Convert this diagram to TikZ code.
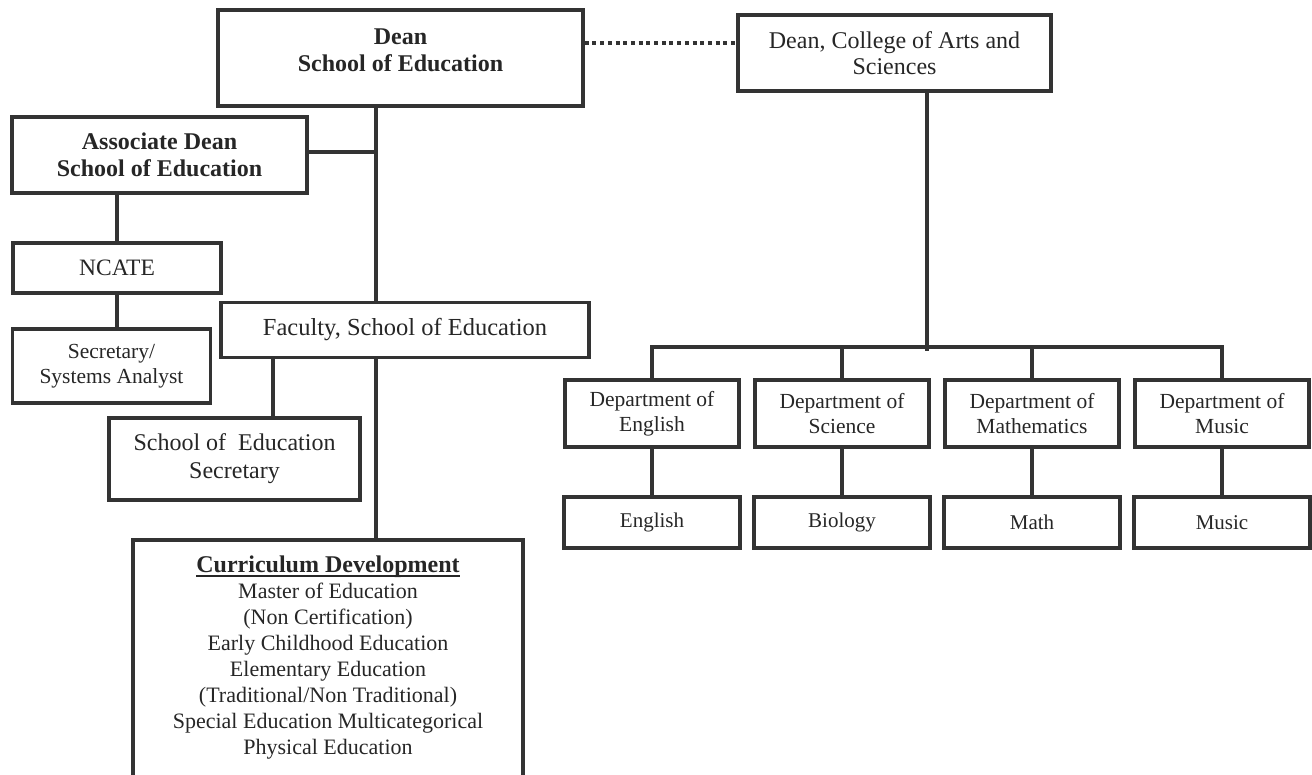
\documentclass[tikz,border=0pt]{standalone}
\usepackage{fontspec}
\setmainfont{Liberation Serif}
\definecolor{ink}{HTML}{333333}
\newcommand{\headrule}[1]{\setbox0\hbox{#1}\rlap{\rule[-4pt]{\wd0}{1.8pt}}\box0}
\tikzstyle{unit} = [rectangle, draw=ink, line width=3.5pt, align=center, text=black!85, inner sep=0pt]
\tikzstyle{headunit} = [unit, font=\bfseries\fontsize{24}{27}\selectfont]
\tikzstyle{bigunit} = [unit, font=\fontsize{24}{26}\selectfont]
\tikzstyle{dept} = [unit, minimum width=174pt, minimum height=67pt, font=\fontsize{21.5}{25}\selectfont]
\tikzstyle{subject} = [unit, minimum width=176pt, minimum height=51pt, font=\fontsize{21}{25}\selectfont]
\tikzstyle{link} = [draw=ink, line width=3.5pt]
\tikzstyle{dotlink} = [link, dash pattern=on 4pt off 3.7pt]

\begin{document}
\begin{tikzpicture}[x=1pt, y=-1pt, node distance=190pt, font=\fontsize{22}{26}\selectfont]
\useasboundingbox (0,0) rectangle (1312,775);
\clip (0,0) rectangle (1312,775);

% Nodes
\node (dean) [unit, minimum width=365pt, minimum height=96pt] at (400.5,58) {};
\node (deantext) [headunit, draw=none] at (400.5,50.5) {Dean\\School of Education};
\node (assoc) [headunit, minimum width=295pt, minimum height=76pt] at (159.5,155) {Associate Dean\\School of Education};
\node (ncate) [unit, minimum width=208pt, minimum height=50pt, font=\fontsize{23.5}{26}\selectfont] at (117,268) {NCATE};
\node (sysa) [unit, minimum width=198pt, minimum height=74pt, font=\fontsize{21.5}{25}\selectfont] at (111.5,366) {Secretary/\\Systems Analyst};
\node (fac) [bigunit, minimum width=368pt, minimum height=55pt, font=\fontsize{24.5}{26}\selectfont] at (405,330) {Faculty, School of Education};
\node (soesec) [bigunit, minimum width=251pt, minimum height=82pt, font=\fontsize{24}{28}\selectfont] at (234.5,459) {School of\ \ Education\\Secretary};
\node (curr) [unit, minimum width=390pt, minimum height=300pt, anchor=north] at (328,538) {};
\node (currtext) [anchor=north, align=center, inner sep=0pt, text=black!85] at (328,556) {{\bfseries\fontsize{24}{26}\selectfont\headrule{Curriculum Development}}\\Master of Education\\(Non Certification)\\Early Childhood Education\\Elementary Education\\(Traditional/Non Traditional)\\Special Education Multicategorical\\Physical Education};

\node (cad) [bigunit, minimum width=313pt, minimum height=76pt] at (894.5,53) {Dean, College of Arts and\\Sciences};
\node (deng) [dept] at (652,413.5) {Department of\\English};
\node (dsci) [dept, right of=deng] {Department of\\Science};
\node (dmat) [dept, right of=dsci] {Department of\\Mathematics};
\node (dmus) [dept, right of=dmat] {Department of\\Music};
\node (seng) [subject, node distance=109pt, below of=deng] {English};
\node (ssci) [subject, node distance=109pt, below of=dsci] {Biology};
\node (smat) [subject, node distance=109pt, below of=dmat] {Math};
\node (smus) [subject, node distance=109pt, below of=dmus] {Music};

\coordinate (trunk) at (376,0);
\coordinate (sidetrunk) at (273,0);
\coordinate (cadtrunk) at (927,0);
\coordinate (dotrow) at (0,43);
\coordinate (bus) at (0,347);
\coordinate (busend) at (927,351);

% Connectors
\draw [dotlink] (dean.east |- dotrow) -- (cad.west |- dotrow);
\draw [link] (dean.south -| trunk) -- (fac.north -| trunk);
\draw [link] (assoc.east |- 0,152) -- (trunk |- 0,152);
\draw [link] (ncate.north) -- (ncate.north |- assoc.south);
\draw [link] (ncate.south) -- (ncate.south |- sysa.north);
\draw [link] (fac.south -| sidetrunk) -- (soesec.north -| sidetrunk);
\draw [link] (fac.south -| trunk) -- (curr.north -| trunk);

\draw [link] (cad.south -| cadtrunk) -- (busend);
\draw [link] (deng.north) -- (deng.north |- bus) -- (dmus.north |- bus) -- (dmus.north);
\draw [link] (dsci.north) -- (dsci.north |- bus);
\draw [link] (dmat.north) -- (dmat.north |- bus);
\draw [link] (deng) -- (seng);
\draw [link] (dsci) -- (ssci);
\draw [link] (dmat) -- (smat);
\draw [link] (dmus) -- (smus);

\end{tikzpicture}
\end{document}
